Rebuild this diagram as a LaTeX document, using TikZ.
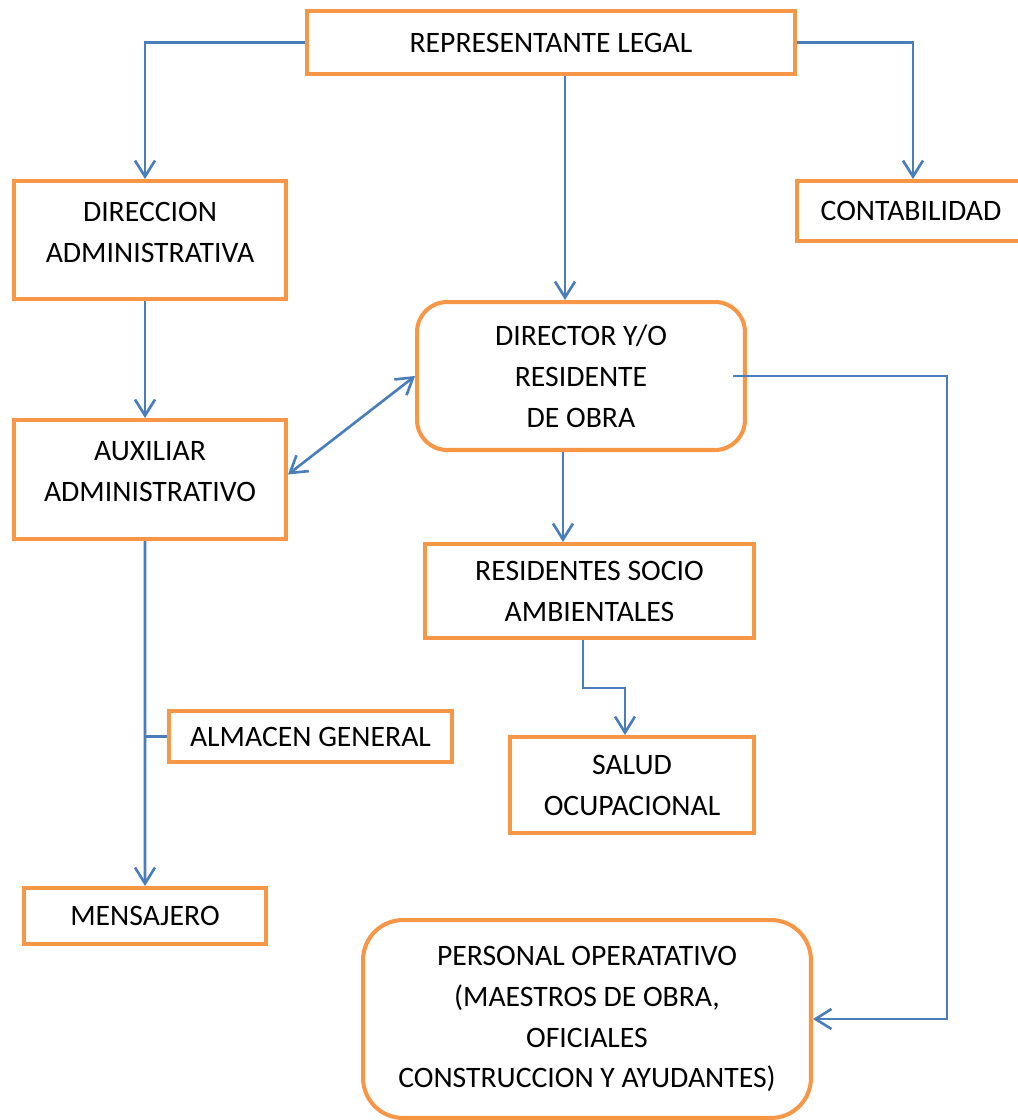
\documentclass[tikz,border=0pt]{standalone}
\usepackage{fontspec}
\setmainfont{Carlito}
\usepackage{xcolor}
\usepackage{tikz}
\usetikzlibrary{arrows.meta,calc}
\definecolor{boxorange}{HTML}{F79646}
\definecolor{linkblue}{HTML}{4A7EBB}
\tikzset{
  org box/.style={
    rectangle,
    draw=boxorange,
    line width=2.3pt,
    align=center,
    inner sep=2pt,
    font=\fontsize{16.9}{23.3}\selectfont,
  },
  org round/.style={
    org box,
    rounded corners=6mm,
  },
  org arrow/.style={-{Straight Barb[length=3.2mm,width=4mm]}, draw=linkblue, line width=1.5pt},
  org both/.style={{Straight Barb[length=3.2mm,width=4mm]}-{Straight Barb[length=3.2mm,width=4mm]}, draw=linkblue, line width=1.5pt},
  org line/.style={draw=linkblue, line width=1.5pt},
}
\begin{document}
\begin{tikzpicture}[x=0.02cm,y=-0.02cm]
  \useasboundingbox (0,0) rectangle (1018,1120);

  \node[org box,minimum width=9.76cm,minimum height=1.26cm] (rep) at (551,42.5) {REPRESENTANTE LEGAL};
  \node[org box,minimum width=5.44cm,minimum height=2.36cm] (dir) at (150,240) {DIRECCION\\ADMINISTRATIVA\\[-0.5cm]};
  \node[org box,minimum width=4.56cm,minimum height=1.2cm] (cont) at (911,211) {CONTABILIDAD};
  \node[org round,minimum width=6.56cm,minimum height=2.96cm] (director) at (581,376) {DIRECTOR Y/O\\RESIDENTE\\DE OBRA};
  \node[org box,minimum width=5.44cm,minimum height=2.38cm] (aux) at (150,479.5) {AUXILIAR\\ADMINISTRATIVO\\[-0.5cm]};
  \node[org box,minimum width=6.58cm,minimum height=1.88cm] (resid) at (589.5,591) {RESIDENTES SOCIO\\AMBIENTALES};
  \node[org box,minimum width=5.66cm,minimum height=1.02cm] (almacen) at (310.5,736.5) {ALMACEN GENERAL};
  \node[org box,minimum width=4.88cm,minimum height=1.92cm] (salud) at (632,785) {SALUD\\OCUPACIONAL};
  \node[org box,minimum width=4.84cm,minimum height=1.12cm] (mens) at (145,916) {MENSAJERO};
  \node[org round,rounded corners=8mm,minimum width=8.96cm,minimum height=3.96cm] (personal) at (587,1019) {PERSONAL OPERATATIVO\\(MAESTROS DE OBRA,\\OFICIALES\\CONSTRUCCION Y AYUDANTES)};

  % representante legal
  \draw[org arrow] (rep.west) -| ([xshift=-1mm]dir.north);
  \draw[org arrow] (rep.east) -| ([xshift=0.4mm]cont.north);
  \draw[org arrow] ([xshift=2.8mm]rep.south) -- ([xshift=2.8mm]rep.south |- director.north);

  % lado administrativo
  \draw[org arrow] ([xshift=-1mm]dir.south) -- ([xshift=-1mm]aux.north);
  \draw[org both] ([yshift=1mm]aux.east) -- (director.west);
  \draw[org arrow] ([xshift=-1mm]aux.south) -- (mens.north);
  \draw[org line] (almacen.west) -- (almacen.west -| mens.north);

  % lado obra
  \draw[org arrow] ([xshift=-3.6mm]director.south) -- ([xshift=-3.6mm]director.south |- resid.north);
  \draw[org arrow] ([xshift=-1.3mm]resid.south) -- ++(0,48) -| ([xshift=-1.4mm]salud.north);
  \draw[org arrow] ([xshift=-2.8mm]director.east) -- ++(214,0) |- (personal.east);
\end{tikzpicture}
\end{document}
